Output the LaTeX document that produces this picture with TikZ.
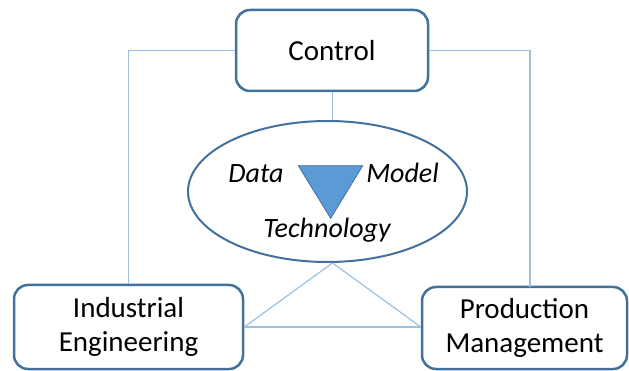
\documentclass[tikz,border=0pt]{standalone}
\usepackage{fontspec}
\setmainfont{Carlito}
\usetikzlibrary{shapes.geometric}
\definecolor{boxline}{HTML}{41719C}
\definecolor{connline}{HTML}{9FC0DC}
\definecolor{trifill}{HTML}{5B9BD5}
\tikzset{
  rbox/.style={draw=boxline, line width=2.5pt, rounded corners=14pt, fill=white,
    align=center, inner sep=0pt, font=\fontsize{29}{34}\selectfont},
  conn/.style={draw=connline, line width=1.2pt},
  itext/.style={font=\fontsize{28}{32}\selectfont\itshape, inner sep=0pt, anchor=base}
}
\begin{document}
\begin{tikzpicture}[x=1pt,y=-1pt]
\useasboundingbox (0,0) rectangle (629,371);
\node[rbox, minimum width=192pt, minimum height=81pt] (ctrl) at (332,50.5) {Control};
\node[rbox, minimum width=229pt, minimum height=84pt] (ie) at (128.5,327) {Industrial\\Engineering};
\node[rbox, minimum width=205pt, minimum height=82pt] (pm) at (524.5,328) {Production\\Management};
\node[draw=boxline, line width=2pt, ellipse, minimum width=279pt, minimum height=141pt, inner sep=0pt] (ell) at (327.5,191.5) {};
\coordinate (pmtop) at (530,287);
\draw[conn] (ctrl.west) -| (ie.north);
\draw[conn] (ctrl.east) -| (pmtop);
\draw[conn] (ctrl.south -| ell.86) -- (ell.86);
\draw[conn] (ell.-86) -- (ie.east);
\draw[conn] (ell.-86) -- (ie.east -| pm.west);
\draw[conn] (ie.east) -- (ie.east -| pm.west);
\fill[trifill, draw=boxline, line width=0.8pt] (298.3,165.7) -- (362.7,165.7) -- (330.7,218.3) -- cycle;
\node[itext] (data) at (256,183) {Data};
\node[itext] (model) at (402.5,183) {Model};
\node[itext] (tech) at (327,238) {Technology};
\end{tikzpicture}
\end{document}
